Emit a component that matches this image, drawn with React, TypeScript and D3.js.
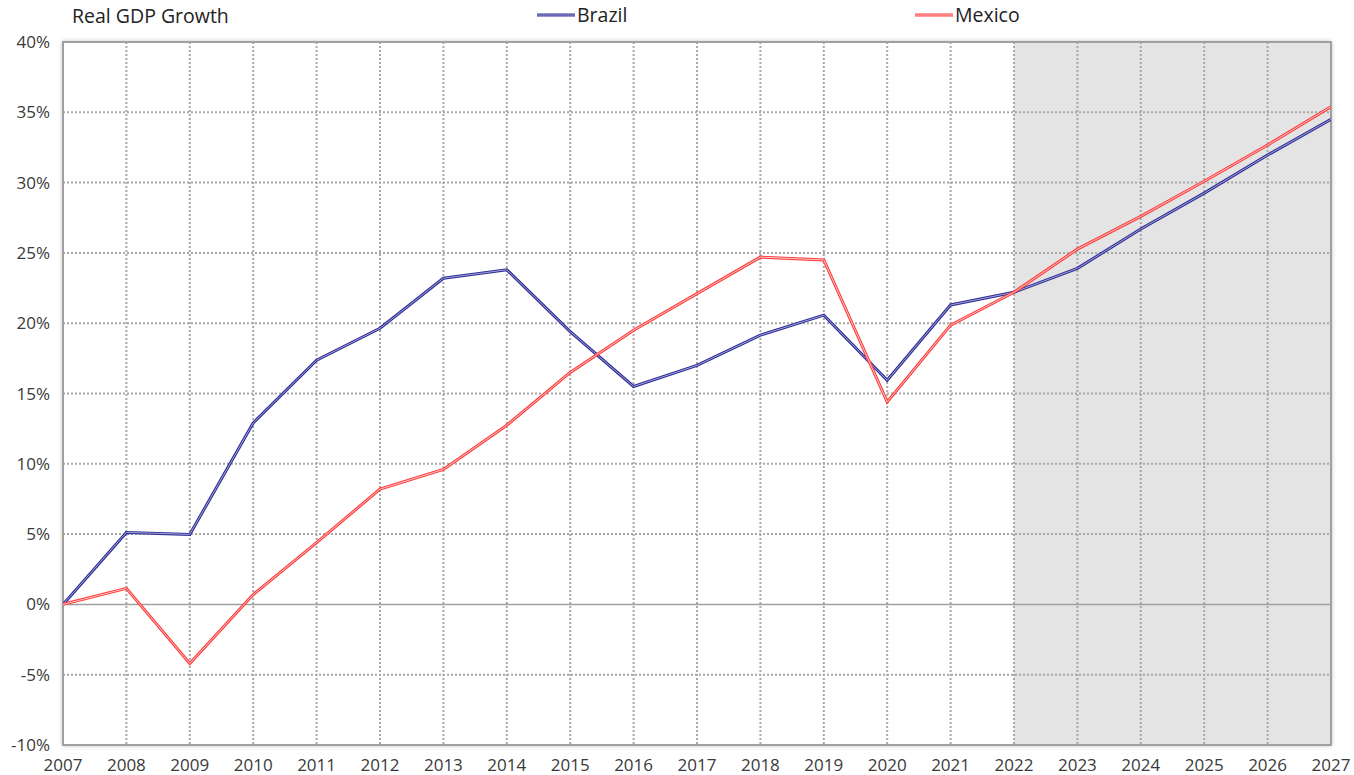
import React from "react";
import * as d3 from "d3";

const years = [2007, 2008, 2009, 2010, 2011, 2012, 2013, 2014, 2015, 2016, 2017, 2018, 2019, 2020, 2021, 2022, 2023, 2024, 2025, 2026, 2027];
const brazil = [0, 5.12, 4.98, 12.9, 17.37, 19.64, 23.2, 23.8, 19.4, 15.5, 17.0, 19.15, 20.57, 15.94, 21.3, 22.2, 23.9, 26.7, 29.25, 31.96, 34.5];
const mexico = [0, 1.14, -4.2, 0.7, 4.4, 8.2, 9.6, 12.74, 16.5, 19.5, 22.1, 24.7, 24.5, 14.4, 19.86, 22.2, 25.27, 27.6, 30.1, 32.67, 35.4];
const yTicks = [-10, -5, 0, 5, 10, 15, 20, 25, 30, 35, 40];
const forecastStart = 2022;
const title = "Real GDP Growth";
const seriesNames = ["Brazil", "Mexico"];

const W = 1354, H = 775;
const left = 63, right = 1331, top = 42, bottom = 745;
const FONT = "'Open Sans', 'DejaVu Sans', sans-serif";

export default function App() {
  const x = d3.scaleLinear().domain([2007, 2027]).range([left, right]);
  const y = d3.scaleLinear().domain([-10, 40]).range([bottom, top]);
  const line = d3.line<number>().x((_, i) => x(years[i])).y((d) => y(d));
  const series = [
    { name: seriesNames[0], data: brazil, outer: "#2e2e96", inner: "#a4a4d8" },
    { name: seriesNames[1], data: mexico, outer: "#ff3c3c", inner: "#ffc4c4" },
  ];
  const legendX = [537, 915];
  return (
    <svg width={W} height={H} style={{ position: "absolute", left: 0, top: 0, background: "#fff" }}>
      <defs>
        <filter id="sh" x="-5%" y="-5%" width="110%" height="110%">
          <feDropShadow dx="0" dy="0" stdDeviation="2.5" floodColor="#000" floodOpacity="0.35" />
        </filter>
        <clipPath id="clip">
          <rect x={left} y={top} width={right - left} height={bottom - top} />
        </clipPath>
      </defs>
      <rect x={left} y={top} width={right - left} height={bottom - top} fill="#fff" filter="url(#sh)" />
      <rect x={x(forecastStart)} y={top} width={right - x(forecastStart)} height={bottom - top} fill="#e4e4e4" />
      {years.slice(1, -1).map((yr) => (
        <line key={"vx" + yr} x1={x(yr)} x2={x(yr)} y1={top} y2={bottom} stroke="#a8a8a8" strokeWidth={2} strokeDasharray="2,2" />
      ))}
      {yTicks.filter((t) => t !== 0 && t !== -10 && t !== 40).map((t) => (
        <line key={"hy" + t} x1={left} x2={right} y1={y(t)} y2={y(t)} stroke="#a8a8a8" strokeWidth={2} strokeDasharray="2,2" />
      ))}
      <line x1={left} x2={right} y1={y(0)} y2={y(0)} stroke="#a0a0a0" strokeWidth={1.5} />
      <rect x={left} y={top} width={right - left} height={bottom - top} fill="none" stroke="#a0a0a0" strokeWidth={2} />
      <g clipPath="url(#clip)">
        {series.map((s) => (
          <g key={s.name}>
            <path d={line(s.data) || ""} fill="none" stroke={s.outer} strokeWidth={3} strokeLinejoin="miter" />
            <path d={line(s.data) || ""} fill="none" stroke={s.inner} strokeWidth={1} strokeLinejoin="miter" />
          </g>
        ))}
      </g>
      {yTicks.map((t) => (
        <text key={"yl" + t} x={50} y={y(t) + 6} textAnchor="end" fontFamily={FONT} fontSize={17} fill="#3a3a3a">
          {t + "%"}
        </text>
      ))}
      {years.map((yr) => (
        <text key={"xl" + yr} x={x(yr)} y={771} textAnchor="middle" fontFamily={FONT} fontSize={17} fill="#3a3a3a">
          {yr}
        </text>
      ))}
      <text x={72} y={23} fontFamily={FONT} fontSize={19.5} fill="#222">{title}</text>
      {series.map((s, i) => (
        <g key={"lg" + s.name}>
          <line x1={legendX[i]} x2={legendX[i] + 38} y1={15} y2={15} stroke={s.outer} strokeWidth={3} />
          <line x1={legendX[i]} x2={legendX[i] + 38} y1={15} y2={15} stroke={s.inner} strokeWidth={1} />
          <text x={legendX[i] + 40} y={22} fontFamily={FONT} fontSize={19.5} fill="#222">{s.name}</text>
        </g>
      ))}
    </svg>
  );
}
